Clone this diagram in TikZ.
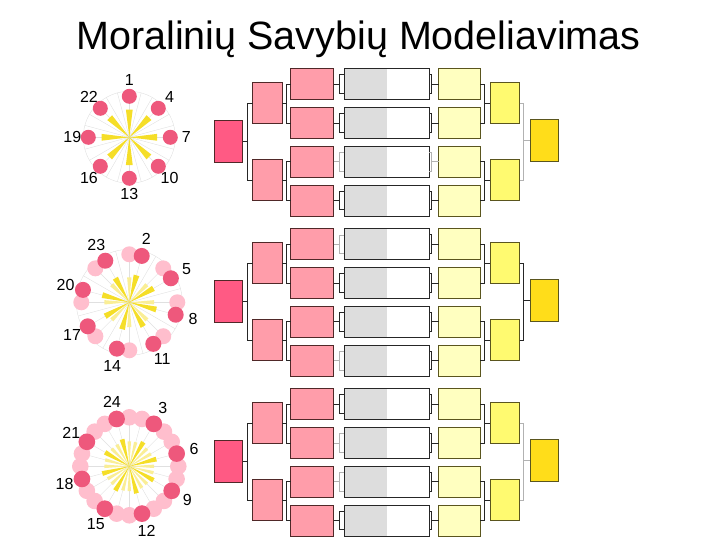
\documentclass[tikz,border=0pt]{standalone}
\usepackage{fontspec}
\setmainfont{Liberation Sans}
\usetikzlibrary{calc}
\definecolor{cBigL}{RGB}{255,90,132}
\definecolor{cPink}{RGB}{255,157,170}
\definecolor{cPB}{RGB}{80,40,40}
\definecolor{cGray}{RGB}{221,221,221}
\definecolor{cLY}{RGB}{255,255,192}
\definecolor{cY2}{RGB}{255,250,112}
\definecolor{cBigR}{RGB}{255,221,26}
\definecolor{cYB}{RGB}{90,85,30}
\definecolor{cDot}{RGB}{238,88,124}
\definecolor{cLDot}{RGB}{255,190,205}
\definecolor{cWB}{RGB}{245,222,40}
\definecolor{cWP}{RGB}{250,238,150}
\begin{document}
\begin{tikzpicture}[x=1pt,y=-1pt,
  box/.style={draw, line width=0.8pt, inner sep=0pt, outer sep=0pt},
  bigl/.style={box, fill=cBigL, draw=cPB, minimum width=28.4pt, minimum height=41.6pt},
  pktwo/.style={box, fill=cPink, draw=cPB, minimum width=29.3pt, minimum height=41.5pt},
  pkthree/.style={box, fill=cPink, draw=cPB, minimum width=43pt, minimum height=31pt},
  gw/.style={box, fill=white, draw=black!85, minimum width=85pt, minimum height=31pt,
    path picture={\fill[cGray] (path picture bounding box.north west) rectangle ($(path picture bounding box.south west)!0.5!(path picture bounding box.south east)$);}},
  lyel/.style={box, fill=cLY, draw=cYB, minimum width=41.6pt, minimum height=31pt},
  ytwo/.style={box, fill=cY2, draw=cYB, minimum width=29.4pt, minimum height=41.5pt},
  bigr/.style={box, fill=cBigR, draw=cYB, minimum width=28.3pt, minimum height=42pt},
  dk/.style={draw=black!85, line width=0.9pt},
  lt/.style={draw=black!30, line width=0.7pt},
  spoke/.style={draw=black!12, line width=0.4pt},
  lab/.style={font=\fontsize{16}{19}\selectfont, inner sep=0pt},
  wb/.style={fill=cWB},
  wp/.style={fill=cWP},
  dot/.style={fill=cDot},
  ldot/.style={fill=cLDot}]
\useasboundingbox (0,0) rectangle (720,540);
\node[font=\fontsize{39.5}{44}\selectfont, anchor=base, inner sep=0pt] (title) at (358.5,50) {Moralinių Savybių Modeliavimas};

% dendrograms
\foreach \b/\o/\sA/\sBa/\sBb/\sCa/\sCb/\sCc/\sCd/\sDa/\sDb/\sDc/\sDd/\sEa/\sEb/\sF in {
  1/0/dk/dk/dk/dk/dk/lt/dk/dk/dk/lt/dk/dk/dk/lt,
  2/160/dk/dk/dk/lt/dk/dk/lt/dk/dk/dk/dk/dk/dk/dk,
  3/320/dk/dk/dk/dk/lt/lt/dk/dk/dk/dk/dk/dk/dk/lt}{
  \node[bigl] (L\b) at (228.5,{141.5+\o}) {};
  \node[pktwo] (Pa\b) at (267.35,{103+\o}) {};
  \node[pktwo] (Pb\b) at (267.35,{180+\o}) {};
  \node[ytwo] (Ya\b) at (505,{103+\o}) {};
  \node[ytwo] (Yb\b) at (505,{180+\o}) {};
  \node[bigr] (R\b) at (544.2,{140+\o}) {};
  \foreach \i/\y in {1/84.2,2/123,3/161.8,4/200.6}{
    \node[pkthree] (P\b-\i) at (312.2,{\y+\o}) {};
    \node[gw] (G\b-\i) at (386.5,{\y+\o}) {};
    \node[lyel] (Q\b-\i) at (459.5,{\y+\o}) {};
  }
  \draw[\sA] (L\b.east) -- ++(4.6,0) |- (Pa\b.west) (L\b.east) -- ++(4.6,0) |- (Pb\b.west);
  \draw[\sBa] (Pa\b.east) -- ++(4,0) |- (P\b-1.west) (Pa\b.east) -- ++(4,0) |- (P\b-2.west);
  \draw[\sBb] (Pb\b.east) -- ++(4,0) |- (P\b-3.west) (Pb\b.east) -- ++(4,0) |- (P\b-4.west);
  \draw[\sCa] (P\b-1.east) -- ++(5.6,0) |- ([yshift=9.3pt]G\b-1.west) (P\b-1.east) -- ++(5.6,0) |- ([yshift=-9.3pt]G\b-1.west);
  \draw[\sCb] (P\b-2.east) -- ++(5.6,0) |- ([yshift=9.3pt]G\b-2.west) (P\b-2.east) -- ++(5.6,0) |- ([yshift=-9.3pt]G\b-2.west);
  \draw[\sCc] (P\b-3.east) -- ++(5.6,0) |- ([yshift=9.3pt]G\b-3.west) (P\b-3.east) -- ++(5.6,0) |- ([yshift=-9.3pt]G\b-3.west);
  \draw[\sCd] (P\b-4.east) -- ++(5.6,0) |- ([yshift=9.3pt]G\b-4.west) (P\b-4.east) -- ++(5.6,0) |- ([yshift=-9.3pt]G\b-4.west);
  \draw[\sDa] ([yshift=9.3pt]G\b-1.east) -- ++(2,0) |- (Q\b-1.west) ([yshift=-9.3pt]G\b-1.east) -- ++(2,0) |- (Q\b-1.west);
  \draw[\sDb] ([yshift=9.3pt]G\b-2.east) -- ++(2,0) |- (Q\b-2.west) ([yshift=-9.3pt]G\b-2.east) -- ++(2,0) |- (Q\b-2.west);
  \draw[\sDc] ([yshift=9.3pt]G\b-3.east) -- ++(2,0) |- (Q\b-3.west) ([yshift=-9.3pt]G\b-3.east) -- ++(2,0) |- (Q\b-3.west);
  \draw[\sDd] ([yshift=9.3pt]G\b-4.east) -- ++(2,0) |- (Q\b-4.west) ([yshift=-9.3pt]G\b-4.east) -- ++(2,0) |- (Q\b-4.west);
  \draw[\sEa] (Q\b-1.east) -- ++(4,0) |- (Ya\b.west) (Q\b-2.east) -- ++(4,0) |- (Ya\b.west);
  \draw[\sEb] (Q\b-3.east) -- ++(4,0) |- (Yb\b.west) (Q\b-4.east) -- ++(4,0) |- (Yb\b.west);
  \draw[\sF] (Ya\b.east) -- ++(4,0) |- (R\b.west) (Yb\b.east) -- ++(4,0) |- (R\b.west);
}

% polar plots: spokes and faint circles
\foreach \cy/\cr in {137.3/46, 302.3/53, 466.3/53}{
  \begin{scope}[shift={(129.3,\cy)}]
    \foreach \t in {0,15,...,345} \draw[spoke] (0,0) -- (\t:\cr);
    \draw[spoke] (0,0) circle[radius=\cr];
  \end{scope}
}

% block 1
\begin{scope}[shift={(129.3,137.3)}]
  \foreach \k in {1,4,...,22}{
    \pgfmathsetmacro\t{(\k-1)*15-90}
    \fill[wb] (0,0) -- ({\t-7}:28) -- ({\t+7}:28) -- cycle;
    \fill[dot] (\t:41) circle[radius=7.5];
    \node[lab] (n1-\k) at (\t:57) {\k};
  }
\end{scope}

% block 2
\begin{scope}[shift={(129.3,302.3)}]
  \foreach \k in {1,4,...,22}{
    \pgfmathsetmacro\t{(\k-1)*15-90}
    \fill[wp] (0,0) -- ({\t-5}:25) -- ({\t+5}:25) -- cycle;
  }
  \foreach \k in {2,5,...,23}{
    \pgfmathsetmacro\t{(\k-1)*15-90}
    \fill[wb] (0,0) -- ({\t-6}:28) -- ({\t+6}:28) -- cycle;
  }
  \foreach \k in {1,4,...,22}{
    \pgfmathsetmacro\t{(\k-1)*15-90}
    \fill[ldot] (\t:48) circle[radius=8];
  }
  \foreach \k in {2,5,...,23}{
    \pgfmathsetmacro\t{(\k-1)*15-90}
    \fill[dot] (\t:48) circle[radius=8];
    \node[lab] (n2-\k) at (\t:66) {\k};
  }
\end{scope}

% block 3
\begin{scope}[shift={(129.3,466.3)}]
  \foreach \k in {1,2,4,5,7,8,10,11,13,14,16,17,19,20,22,23}{
    \pgfmathsetmacro\t{(\k-1)*15-90}
    \fill[wp] (0,0) -- ({\t-4}:25) -- ({\t+4}:25) -- cycle;
  }
  \foreach \k in {3,6,...,24}{
    \pgfmathsetmacro\t{(\k-1)*15-90}
    \fill[wb] (0,0) -- ({\t-5}:28) -- ({\t+5}:28) -- cycle;
  }
  \foreach \k in {1,...,24}{
    \pgfmathsetmacro\t{(\k-1)*15-90}
    \fill[ldot] (\t:49) circle[radius=8.3];
  }
  \foreach \k in {3,6,...,24}{
    \pgfmathsetmacro\t{(\k-1)*15-90}
    \fill[dot] (\t:49) circle[radius=8.3];
    \node[lab] (n3-\k) at (\t:67) {\k};
  }
\end{scope}
\end{tikzpicture}
\end{document}
